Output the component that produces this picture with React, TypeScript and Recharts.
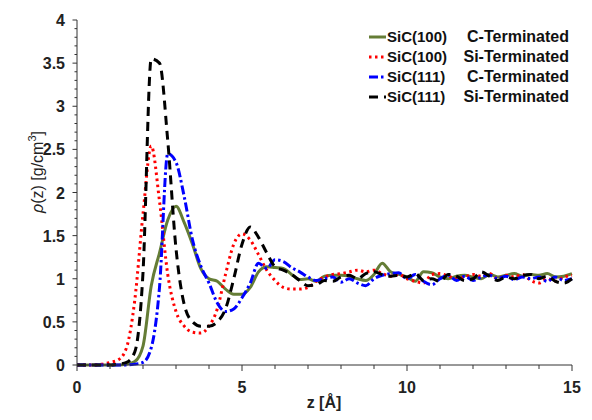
import React from 'react';
import { LineChart, Line, XAxis, YAxis } from 'recharts';

// z grid in Å
const zGrid = [
  0, 0.25, 0.5, 0.75, 1, 1.25, 1.5, 1.75, 2, 2.25, 2.5, 2.75, 3, 3.25, 3.5, 3.75,
  4, 4.25, 4.5, 4.75, 5, 5.25, 5.5, 5.75, 6, 6.25, 6.5, 6.75, 7, 7.25, 7.5, 7.75,
  8, 8.25, 8.5, 8.75, 9, 9.25, 9.5, 9.75, 10, 10.25, 10.5, 10.75, 11, 11.25, 11.5, 11.75,
  12, 12.25, 12.5, 12.75, 13, 13.25, 13.5, 13.75, 14, 14.25, 14.5, 14.75, 15,
];

const sic100C = [
  0, 0, 0, 0, 0, 0, 0.01, 0.04, 0.22, 0.92, 1.3, 1.68, 1.84, 1.65, 1.4, 1.12,
  1.0, 0.97, 0.88, 0.82, 0.82, 0.9, 1.08, 1.14, 1.13, 1.12, 1.05, 0.99, 1.0, 0.97, 1.03, 1.04,
  1.04, 1.03, 1.0, 0.98, 1.05, 1.18, 1.08, 1.05,
  1.02, 0.97, 1.08, 1.07, 1.02, 1.0, 1.03, 1.04, 1.02, 1.0, 1.05, 1.02, 1.04, 1.06, 1.03, 1.05,
  1.04, 1.06, 1.02, 1.03, 1.06,
];

const sic100Si = [
  0, 0, 0, 0.01, 0.03, 0.06, 0.2, 0.75, 1.75, 2.54, 1.9, 1.05, 0.62, 0.45, 0.38, 0.37,
  0.45, 0.65, 1.05, 1.4, 1.52, 1.45, 1.28, 1.1, 0.98, 0.9, 0.88, 0.88, 0.9, 0.97, 1.02, 1.05,
  1.06, 1.08, 1.1, 1.08, 1.1, 1.06, 1.03, 1.05,
  1.0, 0.97, 0.95, 1.05, 1.06, 1.03, 1.0, 1.02, 1.05, 1.03, 1.06, 1.0, 1.04, 1.02, 1.05, 0.98,
  0.95, 1.0, 0.97, 1.02, 1.04,
];

const sic111C = [
  0, 0, 0, 0, 0, 0, 0, 0.01, 0.03, 0.2, 0.9, 2.45, 2.35, 1.95, 1.45, 1.15,
  0.95, 0.72, 0.62, 0.65, 0.78, 0.95, 1.18, 1.12, 1.22, 1.2, 1.13, 1.08, 1.02, 0.98, 1.0, 1.02,
  0.96, 1.0, 0.95, 0.92, 1.0, 1.04, 1.06, 1.07,
  1.0, 1.05, 0.97, 0.93, 1.0, 1.04, 0.98, 1.03, 0.98, 1.02, 1.04, 1.0, 1.03, 0.99, 1.02, 1.0,
  1.02, 0.97, 1.02, 0.98, 1.0,
];

const sic111Si = [
  0, 0, 0, 0, 0, 0.01, 0.03, 0.15, 1.07, 3.55, 3.5, 2.6, 1.35, 0.7, 0.5, 0.45,
  0.45, 0.5, 0.65, 1.0, 1.4, 1.6, 1.48, 1.3, 1.14, 1.1, 1.05, 0.98, 0.92, 0.93, 0.98, 0.97,
  1.02, 1.04, 1.0, 1.06, 1.08, 1.05, 1.03, 1.04,
  1.02, 1.06, 0.98, 1.0, 0.97, 1.05, 1.03, 0.98, 1.0, 1.08, 1.03, 0.98, 1.02, 1.0, 1.04, 1.05,
  1.0, 1.03, 0.97, 0.95, 1.0,
];

const xTicks = [0, 1, 2, 3, 4, 5, 6, 7, 8, 9, 10, 11, 12, 13, 14, 15];
const yTicks = Array.from({ length: 41 }, (_, i) => i / 10);

const seriesMeta = [
  { key: 'c100', name: 'SiC(100)', term: 'C-Terminated', color: '#657d36', dash: undefined as string | undefined, width: 3 },
  { key: 's100', name: 'SiC(100)', term: 'Si-Terminated', color: '#ff0000', dash: '2.5 3.5', width: 3 },
  { key: 'c111', name: 'SiC(111)', term: 'C-Terminated', color: '#0000ff', dash: '9 3 2.5 3', width: 3 },
  { key: 's111', name: 'SiC(111)', term: 'Si-Terminated', color: '#000000', dash: '9 6', width: 3 },
];

const data = zGrid.map((z, i) => ({
  z,
  c100: sic100C[i],
  s100: sic100Si[i],
  c111: sic111C[i],
  s111: sic111Si[i],
}));

const FONT = '"Liberation Sans", Arial, Helvetica, sans-serif';
const AXIS = '#333';

const XTick = (props: any) => {
  const { x, y, payload } = props;
  const v = payload.value;
  const major = v % 5 === 0;
  return (
    <g>
      <line x1={x} y1={y} x2={x} y2={y + (major ? 6 : 4)} stroke={AXIS} strokeWidth={1} />
      {major && (
        <text x={x} y={y + 28} textAnchor="middle" fontSize={16} fontWeight="bold" fontFamily={FONT} fill="#222">
          {v}
        </text>
      )}
    </g>
  );
};

const YTick = (props: any) => {
  const { x, y, payload } = props;
  const v = payload.value;
  const major = Math.abs(v * 2 - Math.round(v * 2)) < 1e-6;
  return (
    <g>
      <line x1={x} y1={y} x2={x - (major ? 4.5 : 2.5)} y2={y} stroke={AXIS} strokeWidth={1} />
      {major && (
        <text x={x - 12} y={y + 6} textAnchor="end" fontSize={16} fontWeight="bold" fontFamily={FONT} fill="#222">
          {String(v)}
        </text>
      )}
    </g>
  );
};

const YLabel = () => (
  <text transform="translate(43,172) rotate(-90)" textAnchor="middle" fontSize={16} fontFamily={FONT} fill="#222">
    <tspan fontStyle="italic">ρ</tspan>
    <tspan>(z) [g/cm</tspan>
    <tspan dy={-7} fontSize={11}>3</tspan>
    <tspan dy={7}>]</tspan>
  </text>
);

const XLabel = () => (
  <text x={324} y={408} textAnchor="middle" fontSize={16} fontWeight="bold" fontFamily={FONT} fill="#222">
    z [Å]
  </text>
);

const LegendBox = () => (
  <div
    style={{
      position: 'absolute',
      left: 368,
      top: 27,
      fontFamily: FONT,
      fontWeight: 'bold',
      color: '#111',
      width: 201,
      lineHeight: '20px',
    }}
  >
    {seriesMeta.map((s) => (
      <div key={s.key} style={{ display: 'flex', alignItems: 'center', height: 20, whiteSpace: 'nowrap' }}>
        <svg width={19} height={10} style={{ flex: 'none' }}>
          <line x1={1} y1={5} x2={18} y2={5} stroke={s.color} strokeWidth={s.width} strokeDasharray={s.dash} />
        </svg>
        <span style={{ fontSize: 15 }}>{s.name}</span>
        <span style={{ marginLeft: 'auto', fontSize: 16 }}>{s.term}</span>
      </div>
    ))}
  </div>
);

export default function App() {
  return (
    <div style={{ position: 'absolute', left: 0, top: 0, width: 592, height: 420, background: '#fff' }}>
      <LineChart width={592} height={420} data={data} margin={{ top: 20, right: 20, left: 0, bottom: 25 }}>
        <XAxis
          dataKey="z"
          type="number"
          domain={[0, 15]}
          ticks={xTicks}
          interval={0}
          tickSize={0}
          tickMargin={0}
          tick={<XTick />}
          height={30}
          stroke={AXIS}
          axisLine={{ stroke: AXIS, strokeWidth: 1 }}
          label={{ content: () => <XLabel /> }}
        />
        <YAxis
          type="number"
          domain={[0, 4]}
          ticks={yTicks}
          interval={0}
          tickSize={0}
          tickMargin={0}
          tick={<YTick />}
          width={77}
          stroke={AXIS}
          axisLine={{ stroke: AXIS, strokeWidth: 1 }}
          label={{ content: () => <YLabel /> }}
        />
        {seriesMeta.map((s) => (
          <Line
            key={s.key}
            dataKey={s.key}
            name={`${s.name} ${s.term}`}
            type="monotone"
            stroke={s.color}
            strokeWidth={s.width}
            strokeDasharray={s.dash}
            dot={false}
            activeDot={false}
            isAnimationActive={false}
          />
        ))}
      </LineChart>
      <LegendBox />
    </div>
  );
}
